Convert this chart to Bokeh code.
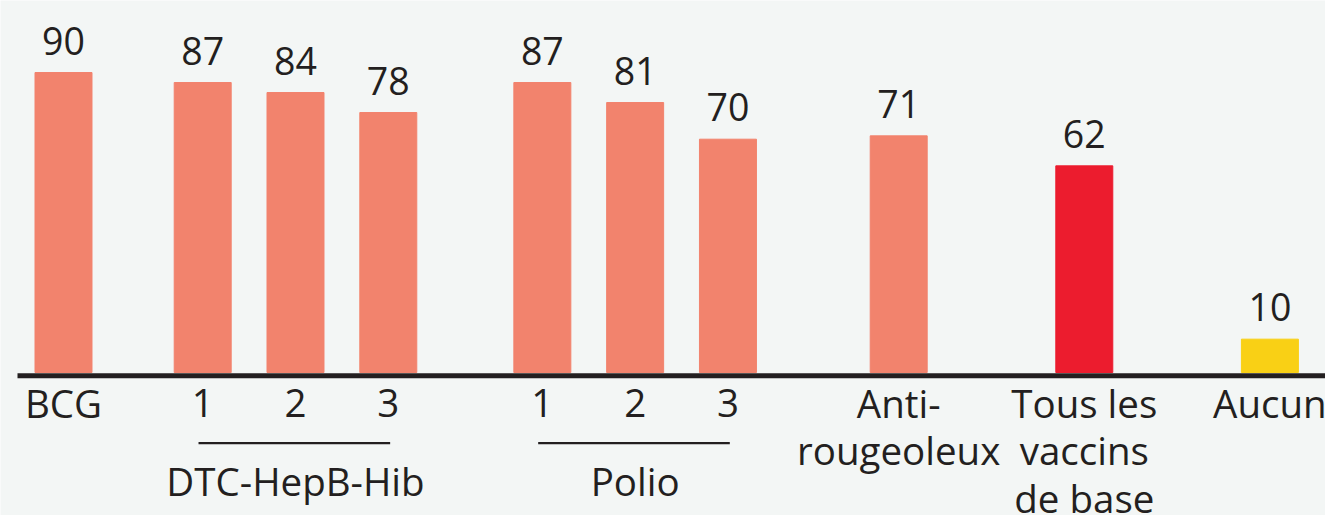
from bokeh.plotting import figure
from bokeh.models import ColumnDataSource, Range1d
from bokeh.core.properties import value
from bokeh.embed import file_html
from bokeh.resources import INLINE

# ---- data ----
categories = ["BCG", "1", "2", "3", "1", "2", "3",
              "Anti-\nrougeoleux", "Tous les\nvaccins\nde base", "Aucun"]
values = [90, 87, 84, 78, 87, 81, 70, 71, 62, 10]
group_names = ["DTC-HepB-Hib", "Polio"]
group_members = [[1, 2, 3], [4, 5, 6]]

# ---- layout / style (not data) ----
slot_pos = [0, 1.5, 2.5, 3.5, 5.16, 6.16, 7.16, 9, 11, 13]
bar_colors = ["#F2836D"] * 8 + ["#EC1C2E", "#F9D015"]
BG = "#F3F6F5"
TXT = "#231F20"
FONT = "Open Sans"
FS_LBL = "38.5px"
FS_VAL = "37.5px"
SHIFT = -14             # compensation for baseline placement

W, H = 1325, 515
UNIT_PX = 92.8          # px per slot unit
ORIGIN_PX = 63          # screen x of slot 0
PX_PER_VAL = 3.333
BASE_PX = 372           # baseline screen y

x_start = -ORIGIN_PX / UNIT_PX
x_end = (W - ORIGIN_PX) / UNIT_PX
y_end = BASE_PX / PX_PER_VAL
y_start = -(H - BASE_PX) / PX_PER_VAL

p = figure(width=W, height=H, output_backend="svg", toolbar_location=None,
           x_range=Range1d(x_start, x_end), y_range=Range1d(y_start, y_end),
           min_border=0, background_fill_color=BG, border_fill_color=BG)
p.axis.visible = False
p.grid.visible = False
p.outline_line_color = None

src = ColumnDataSource(dict(x=slot_pos, top=values, color=bar_colors,
                            lbl=[str(v) for v in values]))
p.vbar(x="x", top="top", bottom=0, width=0.614, color="color", source=src)

# value labels
p.text(x="x", y="top", text="lbl", source=src, text_align="center",
       text_baseline="alphabetic", y_offset=-18 + SHIFT, text_color=TXT,
       text_font=value(FONT), text_font_size=FS_VAL)

# baseline
p.segment(x0=[(17 - ORIGIN_PX) / UNIT_PX], x1=[x_end],
          y0=[-3.2 / PX_PER_VAL], y1=[-3.2 / PX_PER_VAL],
          line_color=TXT, line_width=5)

# category labels (multi-line handled as separate rows)
lx, ltxt, loff = [], [], []
for xp, cat in zip(slot_pos, categories):
    for i, line in enumerate(cat.split("\n")):
        lx.append(xp)
        ltxt.append(line)
        loff.append(44 + SHIFT + i * 47.5)
lsrc = ColumnDataSource(dict(x=lx, y=[0] * len(lx), t=ltxt, off=loff))
p.text(x="x", y="y", text="t", y_offset="off", source=lsrc, text_align="center",
       text_baseline="alphabetic", text_color=TXT, text_font=value(FONT),
       text_font_size=FS_LBL)

# group brackets
gx0, gx1, gxc = [], [], []
for members in group_members:
    a, b = slot_pos[members[0]], slot_pos[members[-1]]
    gx0.append(a - 0.045)
    gx1.append(b + 0.02)
    gxc.append(slot_pos[members[len(members) // 2]])
gy = -70.7 / PX_PER_VAL
p.segment(x0=gx0, x1=gx1, y0=[gy] * len(gx0), y1=[gy] * len(gx0),
          line_color=TXT, line_width=2.3)
gsrc = ColumnDataSource(dict(x=gxc, y=[0] * len(gxc), t=group_names))
p.text(x="x", y="y", text="t", y_offset=122 + SHIFT, source=gsrc, text_align="center",
       text_baseline="alphabetic", text_color=TXT, text_font=value(FONT),
       text_font_size=FS_LBL)

html = file_html(p, INLINE)
html = html.replace("<body>", '<body style="background:%s">' % BG, 1)
open("out.html", "w").write(html)
